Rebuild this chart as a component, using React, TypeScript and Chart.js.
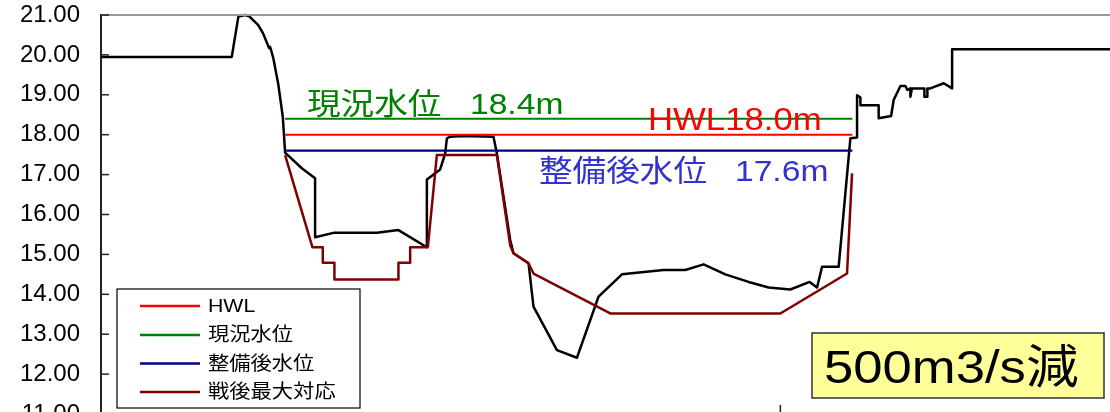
import React, { useEffect, useRef } from "react";
import { Chart, registerables } from "chart.js";

Chart.register(...registerables);

// ---- axis settings ----
const Y_MIN = 11;
const Y_MAX = 21;
const Y_STEP = 1;
const X_MIN = 0;
const X_MAX = 300;
const X_STEP = 200;

// ---- series labels ----
const seriesLabels = ["HWL", "現況水位", "整備後水位", "戦後最大対応"];
const groundLabel = "現況河床";

// ---- water levels (m) ----
const hwlLevel = 18.0;
const currentLevel = 18.4;
const plannedLevel = 17.6;
const levelX = [54.2, 221.2];

// ---- existing cross-section (distance m, elevation m) ----
const groundX = [
  0, 38.5, 40.44, 42.42, 43.59, 46.24, 47.72, 49.48, 49.78, 50.07,
  50.75, 52.22, 53.52, 54.2, 59.12, 63.03, 63.03, 68.43, 81.21, 87.57,
  95.94, 95.94, 99.85, 101.33, 101.83, 102.8, 106.63, 115.55, 116.55, 120.47,
  121.44, 125.86, 127.33, 134.23, 140.12, 146.48, 153.37, 165.63, 172.02, 177.41,
  183.8, 190.66, 196.55, 202.95, 208.63, 210.81, 212.28, 217.17, 220.62, 222.59,
  222.59, 223.57, 223.57, 228.95, 228.95, 232.61, 233.37, 235.35, 236.82, 237.41,
  238.29, 238.29, 238.73, 242.41, 242.41, 243.29, 243.29, 244.17, 248.1, 250.57,
  250.57, 300,
];
const groundY = [
  19.95, 19.95, 20.96, 21.0, 20.97, 20.75, 20.54, 20.17, 20.2, 20.12,
  19.91, 19.25, 18.45, 17.55, 17.16, 16.91, 15.43, 15.54, 15.54, 15.61,
  15.18, 16.88, 17.13, 17.53, 17.91, 17.95, 17.97, 17.95, 17.53, 15.36,
  15.03, 14.78, 13.69, 12.6, 12.41, 13.94, 14.5, 14.61, 14.61, 14.75,
  14.5, 14.31, 14.17, 14.12, 14.31, 14.17, 14.69, 14.69, 17.91, 17.93,
  18.99, 18.93, 18.74, 18.74, 18.41, 18.47, 18.87, 19.22, 19.22, 19.12,
  19.16, 18.95, 19.16, 19.16, 18.95, 18.95, 19.16, 19.16, 19.29, 19.16,
  20.14, 20.14,
];

// ---- post-war maximum flood response section ----
const postwarX = [
  54.2, 62.24, 65.3, 65.3, 68.72, 68.72, 87.57, 87.57, 91.02, 91.02,
  96.23, 98.88, 116.55, 120.47, 121.44, 125.86, 127.33, 149.93, 200.0, 219.64,
  221.11,
];
const postwarY = [
  17.49, 15.18, 15.18, 14.79, 14.79, 14.37, 14.37, 14.79, 14.79, 15.18,
  15.18, 17.49, 17.49, 15.23, 15.03, 14.78, 14.52, 13.52, 13.52, 14.52,
  17.03,
];

// ---- annotation texts ----
const currentText = ["現況水位", "18.4m"];
const hwlText = "HWL18.0m";
const plannedText = ["整備後水位", "17.6m"];
const boxText = "500m3/s減";

const pts = (xs: number[], ys: number[]) => xs.map((x, i) => ({ x, y: ys[i] }));
const flat = (xs: number[], v: number) => xs.map((x) => ({ x, y: v }));

const SX = 1.12;
const FONT_FAMILY = '"Liberation Sans", "Noto Sans CJK JP", sans-serif';

function sText(
  ctx: CanvasRenderingContext2D,
  text: string,
  x: number,
  y: number,
  size: number,
  color: string,
  baseline: CanvasTextBaseline = "alphabetic"
) {
  ctx.save();
  ctx.font = `${size}px ${FONT_FAMILY}`;
  ctx.fillStyle = color;
  ctx.textAlign = "left";
  ctx.textBaseline = baseline;
  ctx.translate(x, y);
  ctx.scale(SX, 1);
  ctx.fillText(text, 0, 0);
  ctx.restore();
}

const decorPlugin = {
  id: "decor",
  afterDatasetsDraw(chart: any) {
    const ctx: CanvasRenderingContext2D = chart.ctx;
    sText(ctx, currentText[0], 307, 114, 30, "#008000");
    sText(ctx, currentText[1], 470, 114, 30, "#008000");
    sText(ctx, hwlText, 648, 130, 31, "#FF0000");
    sText(ctx, plannedText[0], 539, 181, 30, "#3333CC");
    sText(ctx, plannedText[1], 735, 181, 30, "#3333CC");
  },
  afterDraw(chart: any) {
    const ctx: CanvasRenderingContext2D = chart.ctx;
    const area = chart.chartArea;
    const ys = chart.scales.y;
    const xs = chart.scales.x;
    ctx.save();
    ctx.strokeStyle = "#999999";
    ctx.lineWidth = 2;
    ctx.beginPath();
    ctx.moveTo(area.left, area.top);
    ctx.lineTo(area.right, area.top);
    ctx.stroke();
    ctx.strokeStyle = "#222";
    ctx.lineWidth = 1.5;
    ys.ticks.forEach((t: any) => {
      const py = ys.getPixelForValue(t.value);
      ctx.beginPath();
      ctx.moveTo(area.left, py);
      ctx.lineTo(area.left + 8, py);
      ctx.stroke();
    });
    xs.ticks.forEach((t: any) => {
      if (t.value === X_MIN) return;
      const px = xs.getPixelForValue(t.value);
      ctx.beginPath();
      ctx.moveTo(px, area.bottom);
      ctx.lineTo(px, area.bottom - 9);
      ctx.stroke();
    });

    const lx = 117, ly = 289, lw = 243, lh = 119;
    ctx.fillStyle = "#fff";
    ctx.fillRect(lx, ly, lw, lh);
    ctx.strokeStyle = "#000";
    ctx.lineWidth = 1.2;
    ctx.strokeRect(lx, ly, lw, lh);
    const rowY = [306, 335, 363.5, 392];
    for (let i = 0; i < 4; i++) {
      const ds = chart.data.datasets[i];
      ctx.strokeStyle = ds.borderColor;
      ctx.lineWidth = 2.5;
      ctx.beginPath();
      ctx.moveTo(140, rowY[i]);
      ctx.lineTo(200, rowY[i]);
      ctx.stroke();
      sText(ctx, ds.label, 208, rowY[i] + 1, 19, "#000", "middle");
    }

    const bx = 812, by = 333, bw = 292, bh = 65;
    ctx.fillStyle = "#FFFF99";
    ctx.fillRect(bx, by, bw, bh);
    ctx.strokeStyle = "#333";
    ctx.lineWidth = 1.5;
    ctx.strokeRect(bx, by, bw, bh);
    sText(ctx, boxText, 824, 383, 47, "#000");
    ctx.restore();
  },
};

export default function App() {
  const ref = useRef<HTMLCanvasElement>(null);
  useEffect(() => {
    if (!ref.current) return;
    const chart = new Chart(ref.current, {
      type: "line",
      data: {
        datasets: [
          {
            label: seriesLabels[0],
            data: flat(levelX, hwlLevel),
            borderColor: "#FF0000",
            borderWidth: 2,
            pointRadius: 0,
          },
          {
            label: seriesLabels[1],
            data: flat(levelX, currentLevel),
            borderColor: "#008000",
            borderWidth: 2,
            pointRadius: 0,
          },
          {
            label: seriesLabels[2],
            data: flat(levelX, plannedLevel),
            borderColor: "#000080",
            borderWidth: 2.2,
            pointRadius: 0,
          },
          {
            label: seriesLabels[3],
            data: pts(postwarX, postwarY),
            borderColor: "#800000",
            borderWidth: 2.5,
            pointRadius: 0,
          },
          {
            label: groundLabel,
            data: pts(groundX, groundY),
            borderColor: "#000000",
            borderWidth: 2.5,
            pointRadius: 0,
            clip: false as any,
          },
        ],
      },
      options: {
        animation: false,
        responsive: false,
        maintainAspectRatio: false,
        events: [],
        layout: { padding: { top: 15, bottom: 26, left: 0, right: 0 } },
        elements: { line: { tension: 0, borderJoinStyle: "round", fill: false } },
        plugins: { legend: { display: false }, tooltip: { enabled: false } },
        scales: {
          x: {
            type: "linear",
            min: X_MIN,
            max: X_MAX,
            afterFit: (s: any) => {
              s.height = 0;
              s.paddingLeft = 0;
              s.paddingRight = 0;
            },
            ticks: { display: false, stepSize: X_STEP },
            grid: { display: false, drawTicks: false },
            border: { display: false },
          },
          y: {
            type: "linear",
            min: Y_MIN,
            max: Y_MAX,
            afterFit: (s: any) => {
              s.width = 101;
              s.paddingTop = 0;
              s.paddingBottom = 0;
            },
            ticks: {
              stepSize: Y_STEP,
              padding: 21,
              color: "#000",
              font: { family: "Liberation Sans", size: 24 },
              callback: (v: any) => Number(v).toFixed(2),
            },
            grid: { display: false, drawTicks: false },
            border: { display: true, color: "#222", width: 2 },
          },
        },
      },
      plugins: [decorPlugin],
    });
    return () => chart.destroy();
  }, []);
  return (
    <div
      style={{
        position: "fixed",
        left: 0,
        top: 0,
        width: 1110,
        height: 412,
        overflow: "hidden",
        background: "#fff",
      }}
    >
      <canvas ref={ref} width={1120} height={440} style={{ display: "block" }} />
    </div>
  );
}
